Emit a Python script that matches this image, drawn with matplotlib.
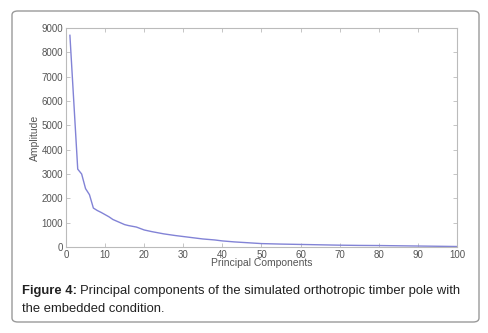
import numpy as np
import matplotlib
matplotlib.use('Agg')
import matplotlib.pyplot as plt
from matplotlib.patches import FancyBboxPatch

# principal component index and amplitude
components = [1, 3, 4, 5, 6, 7, 8, 9, 10, 11, 12, 13, 14, 15, 16, 18, 20, 22, 25, 28, 30, 33, 35, 38, 40,
              43, 45, 48, 50, 55, 60, 65, 70, 75, 80, 85, 90, 95, 100]
amplitude = [8700, 3200, 3000, 2400, 2150, 1600, 1500, 1420, 1330, 1240, 1130, 1060, 990, 920, 880, 820, 700, 630, 540, 470, 430, 370, 330, 290, 250,
             210, 190, 160, 140, 120, 105, 90, 75, 65, 60, 50, 40, 30, 20]

W, H = 489, 333
plt.rcParams['font.family'] = ['Liberation Sans', 'DejaVu Sans']
fig = plt.figure(figsize=(W / 100, H / 100), dpi=100)

# outer rounded frame
box = FancyBboxPatch((12 / W, 1 - 322 / H), (479 - 12) / W, (322 - 11) / H,
                     boxstyle='round,pad=0,rounding_size=0.012', transform=fig.transFigure,
                     facecolor='white', edgecolor='#9a9a9a', linewidth=1.0, zorder=-10)
fig.patches.append(box)

ax = fig.add_axes([66 / W, 1 - 247 / H, (457 - 66) / W, (247 - 28) / H])
ax.plot(components, amplitude, color='#8283d6', linewidth=1.0)
ax.set_xlim(0, 100)
ax.set_ylim(0, 9000)
ax.set_xticks(np.arange(0, 101, 10))
ax.set_yticks(np.arange(0, 9001, 1000))
ax.tick_params(direction='in', length=3, width=0.6, labelsize=7, colors='#bbbbbb',
               labelcolor='#555555', top=True, right=True, pad=2)
for s in ax.spines.values():
    s.set_color('#bbbbbb')
    s.set_linewidth(0.8)
ax.set_xlabel('Principal Components', fontsize=7.5, color='#555555', labelpad=-1)
ax.set_ylabel('Amplitude', fontsize=7.5, color='#555555', labelpad=1)

# caption
t = fig.text(22 / W, 1 - 291 / H, 'Figure 4:', fontsize=9.4, fontweight='bold',
             va='center', ha='left', color='#222222')
fig.canvas.draw()
bb = t.get_window_extent()
fig.text((bb.x1 + 3) / W, 1 - 291 / H, 'Principal components of the simulated orthotropic timber pole with',
         fontsize=9.4, va='center', ha='left', color='#222222')
fig.text(22 / W, 1 - 309 / H, 'the embedded condition.', fontsize=9.4, va='center', ha='left', color='#222222')

fig.savefig('out.png', dpi=100)
